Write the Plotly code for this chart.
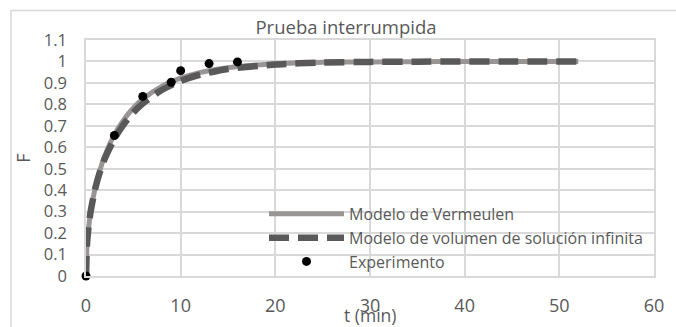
import plotly.graph_objects as go

# Time axis (min) and fractional uptake F for the two models and the experiment
t_model = [0, 0.1, 0.25, 0.5, 1, 1.5, 2, 3, 4, 5, 6, 8, 10, 12, 15, 20, 25, 30, 35, 40, 45, 52]
f_vermeulen = [0, 0.137, 0.215, 0.301, 0.416, 0.498, 0.562, 0.659, 0.729, 0.783, 0.825,
               0.884, 0.922, 0.948, 0.971, 0.989, 0.996, 0.998, 0.999, 1.0, 1.0, 1.0]
f_infinita = [0, 0.143, 0.220, 0.303, 0.412, 0.489, 0.549, 0.640, 0.708, 0.762, 0.804,
              0.867, 0.909, 0.938, 0.965, 0.986, 0.995, 0.998, 0.999, 1.0, 1.0, 1.0]

t_exp = [0, 3, 6, 9, 10, 13, 16]
f_exp = [0, 0.655, 0.837, 0.903, 0.957, 0.99, 0.998]

x_ticks = [0, 10, 20, 30, 40, 50, 60]
y_ticks = [0, 0.1, 0.2, 0.3, 0.4, 0.5, 0.6, 0.7, 0.8, 0.9, 1, 1.1]
y_labels = ["0", "0.1", "0.2", "0.3", "0.4", "0.5", "0.6", "0.7", "0.8", "0.9", "1", "1.1"]

TEXT = "#595959"
GRID = "#d9d9d9"
FONT = "Open Sans"

fig = go.Figure()
fig.add_trace(go.Scatter(
    x=t_model, y=f_vermeulen, mode="lines", name="Modelo de Vermeulen",
    line=dict(color="#9a9595", width=5, shape="spline", smoothing=0.6),
))
fig.add_trace(go.Scatter(
    x=t_model, y=f_infinita, mode="lines", name="Modelo de volumen de solución infinita",
    line=dict(color="#595959", width=6.5, dash="20px,9px", shape="spline", smoothing=0.6),
))
fig.add_trace(go.Scatter(
    x=t_exp, y=f_exp, mode="markers", name="Experimento", cliponaxis=False,
    marker=dict(color="black", size=9),
))

# light frame around the whole chart
fig.add_shape(type="rect", xref="paper", yref="paper",
              x0=-0.132, x1=1.2, y0=-0.4, y1=1.125,
              line=dict(color=GRID, width=1.5), fillcolor="rgba(0,0,0,0)", layer="below")

# x-axis title sits just under the tick labels
fig.add_annotation(text="t (min)", xref="paper", yref="paper", x=0.5, y=-0.166,
                   xanchor="center", yanchor="middle", showarrow=False,
                   font=dict(size=17.5, color=TEXT, family=FONT))

fig.update_layout(
    width=676, height=327,
    margin=dict(l=86, r=22, t=40, b=51, autoexpand=False),
    paper_bgcolor="white", plot_bgcolor="white",
    font=dict(family=FONT, color=TEXT, size=16),
    title=dict(text="Prueba interrumpida", x=346 / 676, xanchor="center",
               y=1 - 28 / 327, yanchor="middle", font=dict(size=18.5, color=TEXT)),
    showlegend=True,
    legend=dict(x=0.3134, y=0.335, xanchor="left", yanchor="top",
                bgcolor="rgba(0,0,0,0)", font=dict(size=16, color=TEXT),
                itemwidth=75, tracegroupgap=0),
    xaxis=dict(range=[0, 60], tickvals=x_ticks, showgrid=True, gridcolor=GRID, gridwidth=1.5,
               zeroline=False, showline=True, linecolor=GRID, linewidth=1.5, mirror=True,
               ticks="", tickfont=dict(size=18, color=TEXT), ticklabelstandoff=13,
               automargin=False),
    yaxis=dict(range=[0, 1.1], tickvals=y_ticks, ticktext=y_labels, showgrid=True,
               gridcolor=GRID, gridwidth=1.5, zeroline=False, showline=True, linecolor=GRID,
               linewidth=1.5, mirror=True, ticks="", tickfont=dict(size=16.5, color=TEXT),
               ticklabelstandoff=14, automargin=False,
               title=dict(text="F", standoff=8, font=dict(size=18, color=TEXT))),
)

fig.write_html("out.html")
